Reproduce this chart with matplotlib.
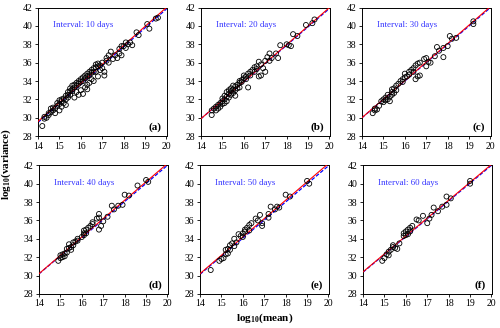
#!/usr/bin/python3
# -*- coding: utf-8 -*-
# log10(variance) vs log10(mean) for different sampling intervals
import numpy as np
import matplotlib
matplotlib.use('Agg')
import matplotlib.pyplot as plt

plt.rcParams['font.family'] = ['Liberation Serif', 'DejaVu Serif']
plt.rcParams['mathtext.fontset'] = 'custom'
plt.rcParams['mathtext.rm'] = 'Liberation Serif'
plt.rcParams['mathtext.bf'] = 'Liberation Serif:bold'

# ----------------------------------------------------------------------
# data
intervals = [10, 20, 30, 40, 50, 60]
panel_labels = ['(a)', '(b)', '(c)', '(d)', '(e)', '(f)']

x_a = [14.2, 14.3, 14.3, 14.4, 14.5, 14.5, 14.6, 14.6, 14.7, 14.7, 14.8, 14.8,
       14.9, 14.9, 15.0, 15.0, 15.0, 15.1, 15.1, 15.1, 15.2, 15.2, 15.3, 15.3,
       15.3, 15.4, 15.4, 15.4, 15.5, 15.5, 15.5, 15.6, 15.6, 15.6, 15.7, 15.7,
       15.7, 15.8, 15.8, 15.8, 15.9, 15.9, 15.9, 16.0, 16.0, 16.0, 16.1, 16.1,
       16.1, 16.2, 16.2, 16.2, 16.3, 16.3, 16.3, 16.3, 16.4, 16.4, 16.4, 16.5,
       16.5, 16.5, 16.6, 16.6, 16.6, 16.7, 16.7, 16.7, 16.8, 16.8, 16.8, 16.9,
       16.9, 17.0, 17.0, 17.1, 17.1, 17.2, 17.2, 17.3, 17.3, 17.4, 17.5, 17.6,
       17.7, 17.8, 17.8, 17.9, 17.9, 18.0, 18.1, 18.1, 18.2, 18.3, 18.4, 18.6,
       18.7, 19.1, 19.2, 19.5, 19.6]
y_a = [29.1, 29.9, 30.1, 30.0, 30.3, 30.5, 30.6, 31.0, 30.8, 31.1, 31.0, 30.5,
       31.3, 31.6, 31.5, 31.9, 30.8, 31.8, 32.0, 31.2, 32.1, 31.6, 32.4, 32.0,
       31.4, 32.5, 32.8, 32.2, 32.9, 33.2, 32.5, 33.1, 33.5, 32.9, 33.6, 33.3,
       32.2, 33.8, 33.5, 32.8, 34.0, 33.7, 32.5, 34.2, 33.9, 33.0, 34.4, 34.0,
       32.6, 34.6, 34.3, 33.3, 34.8, 34.5, 33.6, 33.1, 35.0, 34.6, 33.8, 35.2,
       34.9, 34.2, 35.4, 35.0, 34.0, 35.5, 35.8, 35.0, 35.9, 35.6, 34.5, 35.7,
       35.2, 36.0, 35.4, 35.0, 34.6, 36.2, 36.5, 36.8, 36.0, 37.2, 36.4, 36.8,
       36.5, 37.5, 37.0, 37.8, 36.8, 37.8, 38.2, 37.6, 38.0, 38.2, 37.9, 39.3,
       39.0, 40.2, 39.7, 40.8, 40.9]

x_b = [14.5, 14.5, 14.6, 14.7, 14.7, 14.8, 14.8, 14.9, 14.9, 15.0, 15.0, 15.0,
       15.1, 15.1, 15.1, 15.2, 15.2, 15.2, 15.3, 15.3, 15.3, 15.4, 15.4, 15.4,
       15.5, 15.5, 15.5, 15.6, 15.6, 15.6, 15.7, 15.7, 15.8, 15.8, 15.8, 15.9,
       15.9, 16.0, 16.0, 16.1, 16.1, 16.2, 16.2, 16.3, 16.3, 16.4, 16.5, 16.5,
       16.6, 16.6, 16.7, 16.7, 16.8, 16.8, 16.9, 17.0, 17.0, 17.1, 17.2, 17.2,
       17.3, 17.5, 17.6, 17.7, 18.0, 18.1, 18.2, 18.3, 18.5, 18.9, 19.2, 19.3]
y_b = [30.3, 30.8, 31.0, 30.8, 31.2, 31.0, 31.4, 31.6, 31.2, 31.8, 31.5, 32.1,
       32.0, 31.6, 32.4, 32.3, 31.8, 32.8, 32.6, 32.2, 33.0, 32.9, 32.5, 33.2,
       33.1, 32.7, 33.5, 33.4, 33.0, 32.4, 33.6, 33.2, 33.8, 34.0, 33.3, 34.1,
       33.9, 34.3, 34.6, 34.5, 34.2, 34.8, 33.3, 35.0, 34.6, 35.2, 35.5, 35.0,
       35.6, 35.3, 36.1, 34.5, 35.8, 34.6, 35.4, 35.0, 36.2, 36.6, 37.0, 36.2,
       36.5, 37.0, 36.5, 37.9, 38.0, 37.9, 37.8, 39.1, 38.9, 40.1, 40.3, 40.7]

x_c = [14.5, 14.6, 14.6, 14.7, 14.8, 14.9, 15.0, 15.0, 15.1, 15.1, 15.2, 15.2,
       15.3, 15.3, 15.4, 15.4, 15.4, 15.5, 15.5, 15.6, 15.6, 15.7, 15.8, 15.9,
       15.9, 16.0, 16.0, 16.1, 16.2, 16.2, 16.3, 16.4, 16.4, 16.5, 16.5, 16.6,
       16.6, 16.7, 16.7, 16.9, 17.0, 17.0, 17.1, 17.2, 17.4, 17.5, 17.6, 17.8,
       17.8, 18.0, 18.1, 18.2, 18.4, 19.2, 19.2]
y_c = [30.5, 30.8, 31.0, 30.9, 31.3, 31.8, 31.7, 32.0, 32.2, 31.9, 32.5, 32.0,
       32.3, 31.8, 32.8, 32.5, 33.1, 33.2, 32.7, 33.5, 33.0, 33.7, 34.0, 33.9,
       34.2, 34.4, 34.8, 34.5, 35.0, 34.7, 35.2, 35.4, 35.0, 35.7, 34.2, 35.9,
       34.5, 34.6, 36.0, 36.4, 36.5, 35.6, 36.1, 36.0, 36.7, 37.7, 37.3, 36.6,
       37.6, 37.8, 38.9, 38.6, 38.7, 40.2, 40.5]

x_d = [14.9, 15.0, 15.0, 15.1, 15.1, 15.2, 15.2, 15.3, 15.3, 15.4, 15.4, 15.5,
       15.5, 15.6, 15.6, 15.7, 15.8, 15.8, 16.0, 16.1, 16.1, 16.1, 16.2, 16.2,
       16.3, 16.4, 16.5, 16.5, 16.7, 16.8, 16.8, 16.8, 16.9, 17.0, 17.2, 17.4,
       17.5, 17.7, 17.9, 18.0, 18.2, 18.6, 19.0, 19.1]
y_d = [31.6, 31.9, 32.2, 32.0, 32.3, 32.4, 32.1, 32.9, 32.5, 33.4, 33.0, 33.1,
       32.8, 33.6, 33.3, 33.7, 34.0, 33.8, 34.2, 34.6, 34.9, 34.4, 35.0, 34.6,
       35.2, 35.4, 35.8, 35.6, 36.2, 36.7, 36.3, 35.0, 35.4, 35.9, 36.4, 37.6,
       37.2, 37.6, 37.7, 38.8, 38.7, 39.8, 40.4, 40.2]

x_e = [14.5, 14.9, 15.0, 15.1, 15.2, 15.2, 15.3, 15.3, 15.4, 15.4, 15.5, 15.6,
       15.6, 15.7, 15.8, 15.9, 16.0, 16.0, 16.1, 16.1, 16.2, 16.3, 16.3, 16.4,
       16.6, 16.7, 16.8, 16.9, 16.9, 17.2, 17.2, 17.3, 17.5, 17.6, 17.7, 18.0,
       18.2, 19.0, 19.1]
y_e = [30.6, 31.6, 31.8, 31.9, 32.3, 32.8, 32.4, 32.9, 33.3, 32.8, 33.5, 34.0,
       33.2, 33.6, 34.5, 34.3, 34.6, 34.2, 34.8, 35.0, 35.2, 35.5, 34.9, 35.7,
       36.2, 36.0, 36.6, 35.7, 35.4, 36.3, 36.7, 37.5, 37.2, 37.5, 37.4, 38.8,
       38.6, 40.3, 40.0]

x_f = [14.9, 15.0, 15.1, 15.2, 15.2, 15.3, 15.4, 15.4, 15.5, 15.6, 15.7, 15.9,
       15.9, 16.0, 16.0, 16.1, 16.1, 16.2, 16.2, 16.3, 16.5, 16.6, 16.8, 17.0,
       17.1, 17.2, 17.3, 17.5, 17.7, 17.9, 17.9, 18.1, 19.0, 19.0]
y_f = [31.6, 31.9, 32.3, 32.6, 32.2, 32.8, 33.1, 33.3, 33.0, 32.9, 33.5, 34.3,
       34.6, 34.4, 34.8, 35.0, 34.5, 35.2, 34.8, 35.4, 36.1, 36.0, 36.5, 35.7,
       36.2, 36.6, 37.4, 37.0, 37.5, 37.7, 38.6, 38.4, 40.3, 40.0]

xs = [x_a, x_b, x_c, x_d, x_e, x_f]
ys = [y_a, y_b, y_c, y_d, y_e, y_f]

# fitted lines, y = a + b*x  (red solid and blue dashed)
red_a = [0.62, 1.66, 1.77, 2.2, 2.2, 3.1]
red_b = [2.07, 2.017, 2.017, 2.0, 2.0, 1.95]
blue_a = [0.65, 1.9, 2.0, 2.6, 2.55, 3.2]
blue_b = [2.06, 2.0, 2.0, 1.97, 1.97, 1.94]

# ----------------------------------------------------------------------
fig = plt.figure(figsize=(5.0, 3.28), dpi=100)

# axes boxes in figure fraction [left, bottom, width, height]
lefts = [0.076, 0.402, 0.724, 0.078, 0.400, 0.726]
bottoms = [0.585, 0.585, 0.585, 0.104, 0.104, 0.104]
w = 0.257
h = 0.392

xline = np.linspace(14, 20, 50)
for i in range(6):
    ax = fig.add_axes([lefts[i], bottoms[i], w, h])
    ax.plot(xline, blue_a[i] + blue_b[i] * xline, color='blue',
            linestyle=(0, (3, 1.5)), linewidth=0.9, zorder=2)
    ax.plot(xline, red_a[i] + red_b[i] * xline, color='red',
            linewidth=0.8, zorder=3)
    ax.scatter(xs[i], ys[i], s=13, facecolors='none', edgecolors='black',
               linewidths=0.6, zorder=4)
    ax.set_xlim(14, 20)
    ax.set_ylim(28, 42)
    ax.set_xticks(range(14, 21))
    ax.set_yticks(range(28, 43, 2))
    ax.tick_params(direction='out', length=2.5, width=0.6, labelsize=7,
                   pad=1.5)
    for sp in ax.spines.values():
        sp.set_linewidth(0.7)
    ax.text(14.7, 40.1, 'Interval: %d days' % intervals[i], color='#3333ff',
            fontsize=6.4, va='center', ha='left')
    ax.text(19.75, 29.0, panel_labels[i], fontsize=8, fontweight='bold',
            ha='right', va='center')

fig.text(0.012, 0.5, r'$\mathbf{log_{10}}$' + '(variance)', rotation=90,
         fontsize=8, fontweight='bold', ha='center', va='center')
fig.text(0.53, 0.03, r'$\mathbf{log_{10}}$' + '(mean)', fontsize=8,
         fontweight='bold', ha='center', va='center')

fig.savefig('out.png', dpi=100)
